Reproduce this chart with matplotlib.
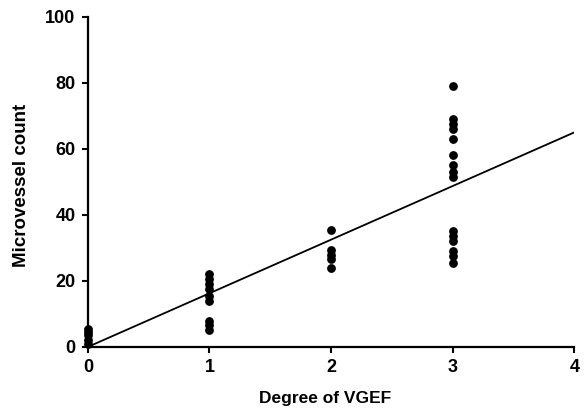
import matplotlib.pyplot as plt
import numpy as np

# degree of VGEF vs microvessel count
deg0 = [5.5, 4.5, 3.5, 2, 1]
deg1 = [22, 20.5, 19, 17.5, 15.5, 14, 8, 6.5, 5]
deg2 = [35.5, 29.5, 28, 26.5, 24]
deg3 = [79, 69, 67.5, 66, 63, 58, 55, 53, 51.5, 35, 33.5, 32, 29, 27.5, 25.5]

# regression line
fit_x = [0, 4]
fit_y = [0, 65]

xticks = [0, 1, 2, 3, 4]
yticks = [0, 20, 40, 60, 80, 100]

plt.rcParams['font.family'] = ['Liberation Sans', 'DejaVu Sans']

fig = plt.figure(figsize=(5.86, 4.12), dpi=100)
ax = fig.add_axes([0.150, 0.158, 0.830, 0.801])

for xv, ys in zip([0, 1, 2, 3], [deg0, deg1, deg2, deg3]):
    ax.scatter(np.full(len(ys), xv), ys, s=40, color='black', zorder=3,
               clip_on=False, linewidths=0)

ax.plot(fit_x, fit_y, color='black', linewidth=1.3, zorder=2)

ax.set_xlim(0, 4)
ax.set_ylim(0, 100)
ax.set_xticks(xticks)
ax.set_yticks(yticks)
ax.tick_params(direction='out', length=4, width=1.5, labelsize=13, pad=5)
for lab in ax.get_xticklabels() + ax.get_yticklabels():
    lab.set_fontweight('bold')

for side in ['top', 'right']:
    ax.spines[side].set_visible(False)
for side in ['left', 'bottom']:
    ax.spines[side].set_linewidth(1.6)

ax.set_xlabel('Degree of VGEF', fontsize=12.5, fontweight='bold')
ax.xaxis.set_label_coords(0.488, -0.135)
ax.set_ylabel('Microvessel count', fontsize=13.5, fontweight='bold')
ax.yaxis.set_label_coords(-0.119, 0.49)

fig.savefig('out.png', dpi=100)
